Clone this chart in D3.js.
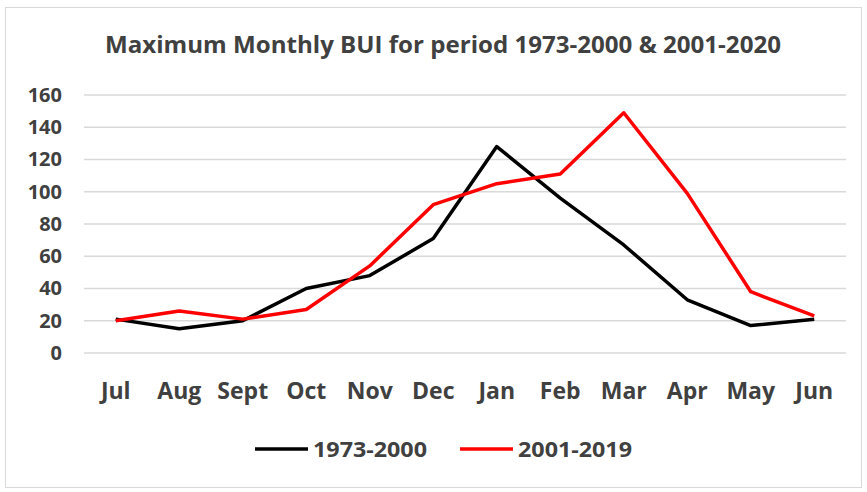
<!DOCTYPE html>
<html>
<head>
<meta charset="utf-8">
<script src="https://cdn.jsdelivr.net/npm/d3@7"></script>
<style>
  body { margin: 0; background: #fff; }
  text { font-family: "Open Sans", "Liberation Sans", sans-serif; font-weight: bold; fill: #404040; }
</style>
</head>
<body>
<div id="wrapper"></div>
<script>
// data
const months = ["Jul", "Aug", "Sept", "Oct", "Nov", "Dec", "Jan", "Feb", "Mar", "Apr", "May", "Jun"];
const bui1973 = [21, 15, 20, 40, 48, 71, 128, 96, 67, 33, 17, 21];
const bui2001 = [20, 26, 21, 27, 54, 92, 105, 111, 149, 99, 38, 23];
const yTicks = [0, 20, 40, 60, 80, 100, 120, 140, 160];
const seriesNames = ["1973-2000", "2001-2019"];
const seriesColors = ["#000000", "#ff0000"];
const titleText = "Maximum Monthly BUI for period 1973-2000 & 2001-2020";

const width = 867, height = 492;
const margins = { top: 95, right: 21, bottom: 139, left: 84 };
const boundedWidth = width - margins.left - margins.right;
const boundedHeight = height - margins.top - margins.bottom;

const svg = d3.select("#wrapper").append("svg")
    .attr("width", width)
    .attr("height", height);

// outer chart border
svg.append("rect")
    .attr("x", 5.5).attr("y", 7.5)
    .attr("width", width - 11).attr("height", height - 12)
    .attr("fill", "#fff")
    .attr("stroke", "#d9d9d9")
    .attr("stroke-width", 1);

svg.append("text")
    .attr("x", 443).attr("y", 53)
    .attr("text-anchor", "middle")
    .attr("textLength", 676)
    .attr("lengthAdjust", "spacingAndGlyphs")
    .style("font-size", "23px")
    .text(titleText);

const bounds = svg.append("g")
    .attr("transform", `translate(${margins.left},${margins.top})`);

const xScale = d3.scaleBand().domain(months).range([0, boundedWidth]);
const yScale = d3.scaleLinear().domain([0, 160]).range([boundedHeight, 0]);

// gridlines
bounds.append("g")
    .selectAll("line")
    .data(yTicks)
    .join("line")
    .attr("x1", 0).attr("x2", boundedWidth)
    .attr("y1", d => yScale(d)).attr("y2", d => yScale(d))
    .attr("stroke", "#d9d9d9")
    .attr("stroke-width", 1.5);

// y axis
const yAxis = bounds.append("g")
    .call(d3.axisLeft(yScale).tickValues(yTicks).tickSize(0).tickPadding(22));
yAxis.select(".domain").remove();
yAxis.selectAll("text")
    .style("font-size", "20px")
    .attr("fill", "#404040")
    .attr("font-family", null);

// x axis
const xAxis = bounds.append("g")
    .attr("transform", `translate(0,${boundedHeight})`)
    .call(d3.axisBottom(xScale).tickSize(0).tickPadding(30));
xAxis.select(".domain").remove();
xAxis.selectAll("text")
    .style("font-size", "23px")
    .attr("fill", "#404040")
    .attr("font-family", null);

// lines
const lineGenerator = d3.line()
    .x((d, i) => xScale(months[i]) + xScale.bandwidth() / 2)
    .y(d => yScale(d));

[bui1973, bui2001].forEach((values, i) => {
    bounds.append("path")
        .attr("d", lineGenerator(values))
        .attr("fill", "none")
        .attr("stroke", seriesColors[i])
        .attr("stroke-width", 3.5)
        .attr("stroke-linejoin", "round");
});

// legend
const legendX = [255, 460];
seriesNames.forEach((name, i) => {
    const g = svg.append("g").attr("transform", `translate(${legendX[i]},449)`);
    g.append("line")
        .attr("x1", 0).attr("x2", 53)
        .attr("stroke", seriesColors[i])
        .attr("stroke-width", 3.5);
    g.append("text")
        .attr("x", 58).attr("y", 8)
        .attr("textLength", 114)
        .attr("lengthAdjust", "spacingAndGlyphs")
        .style("font-size", "22px")
        .text(name);
});
</script>
</body>
</html>
